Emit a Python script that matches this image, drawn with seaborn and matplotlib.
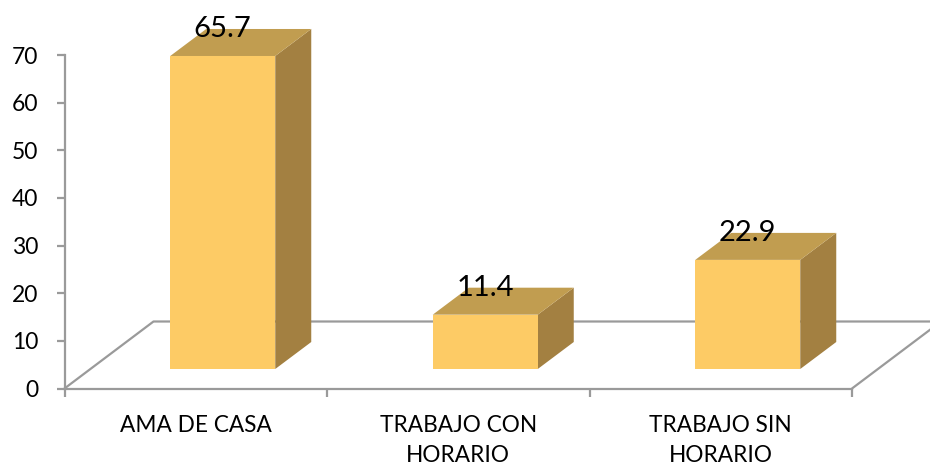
import matplotlib
matplotlib.use("Agg")
import matplotlib.pyplot as plt
import seaborn as sns
from matplotlib.transforms import Affine2D

categories = ["AMA DE CASA", "TRABAJO CON\nHORARIO", "TRABAJO SIN\nHORARIO"]
values = [65.7, 11.4, 22.9]
y_ticks = [0, 10, 20, 30, 40, 50, 60, 70]

FRONT, TOP, SIDE = "#FDCB65", "#C19D50", "#A38041"
GREY = "#9A9A9A"

sns.set_style("white")
plt.rcParams["font.family"] = ["Lato", "DejaVu Sans"]

fig = plt.figure(figsize=(9.3, 4.66), dpi=100)
W, H = 930, 466
ax = fig.add_axes([64.5 / W, (H - 388.5) / H, 787.5 / W, 333.5 / H])

sns.barplot(x=list(range(3)), y=values, width=0.4, color=FRONT, saturation=1,
            ax=ax, zorder=3, clip_on=False, linewidth=0)
ax.set_xlim(-0.5, 2.5)
ax.set_ylim(0, 70)

# pixel shifts of the pseudo-3D projection
bar_dx, bar_dy = 27, 19.5       # bar front relative to the floor's front edge
depth_dx, depth_dy = 36, 27     # bar depth
floor_dx, floor_dy = 89, 67     # floor depth

front_tr = ax.transData + Affine2D().translate(bar_dx, bar_dy)
back_tr = ax.transData + Affine2D().translate(bar_dx + depth_dx, bar_dy + depth_dy)
floor_tr = ax.transData + Affine2D().translate(floor_dx, floor_dy)
inv = ax.transData.inverted()

for patch, v in zip(ax.patches, values):
    x0, x1 = patch.get_x(), patch.get_x() + patch.get_width()
    patch.set_transform(front_tr)
    # side and top faces, from the same bar geometry
    side_pts = [*front_tr.transform([(x1, 0), (x1, v)]), *back_tr.transform([(x1, v), (x1, 0)])]
    ax.fill(*inv.transform(side_pts).T, color=SIDE, lw=0, zorder=2.5, clip_on=False)
    top_pts = [*front_tr.transform([(x0, v), (x1, v)]), *back_tr.transform([(x1, v), (x0, v)])]
    ax.fill(*inv.transform(top_pts).T, color=TOP, lw=0, zorder=2.5, clip_on=False)
    centre = front_tr.transform(((x0 + x1) / 2, v))
    ax.annotate(f"{v:.1f}", xy=inv.transform(centre), xytext=(0, 19), textcoords="offset pixels",
                ha="center", va="baseline", fontsize=21, color="black", zorder=5,
                annotation_clip=False)

# floor outline
xa, xb = ax.get_xlim()
front_edge = ax.transData.transform([(xa, 0), (xb, 0)])
back_edge = floor_tr.transform([(xa, 0), (xb, 0)])
floor_line = inv.transform([front_edge[0], back_edge[0], back_edge[1], front_edge[1]])
ax.plot(*floor_line.T, color=GREY, lw=1.6, zorder=1, clip_on=False)
ax.set_xlim(xa, xb)

ax.set_xticks([-0.5, 0.5, 1.5, 2.5], labels=[""] * 4)
ax.set_xticks([0, 1, 2], labels=categories, minor=True)
ax.set_yticks(y_ticks)
ax.tick_params(axis="x", which="major", length=6, width=1.6, color=GREY, bottom=True)
ax.tick_params(axis="x", which="minor", length=0, pad=19, labelsize=16.3, labelcolor="black")
ax.tick_params(axis="y", length=6, width=1.6, color=GREY, left=True, pad=13, labelsize=16.5,
               labelcolor="black")
for lab in ax.get_xticklabels(minor=True):
    lab.set_linespacing(1.55)
for side in ("top", "right"):
    ax.spines[side].set_visible(False)
for side in ("left", "bottom"):
    ax.spines[side].set_color(GREY)
    ax.spines[side].set_linewidth(1.6)
ax.set_facecolor("none")
ax.grid(False)

fig.savefig("out.png", dpi=100)
